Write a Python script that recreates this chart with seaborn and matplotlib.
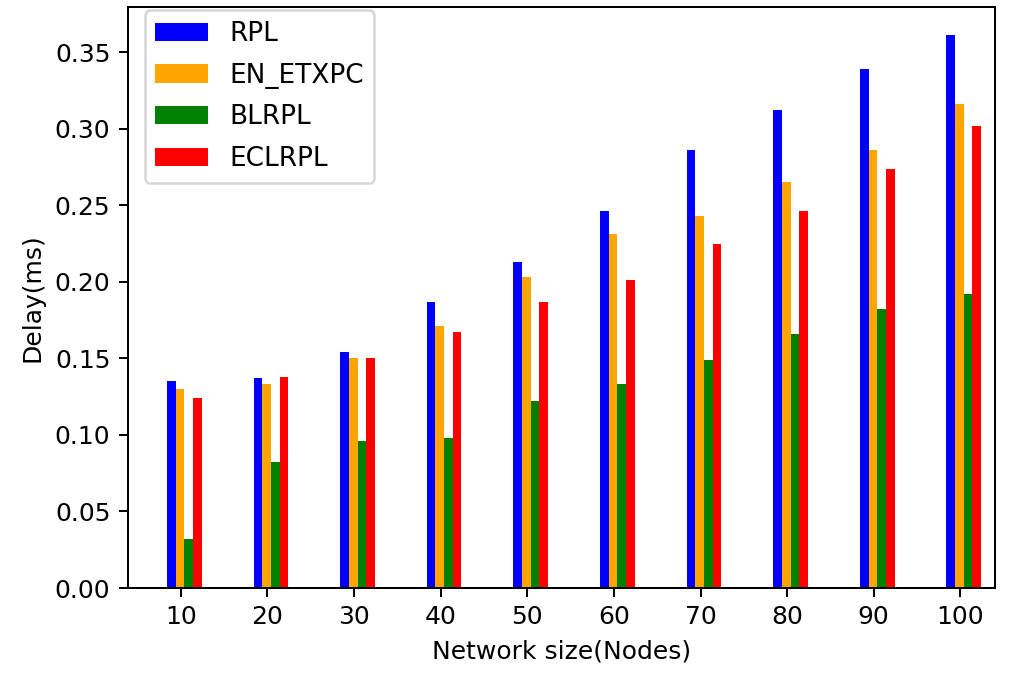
import numpy as np
import pandas as pd
import matplotlib
matplotlib.use("Agg")
import matplotlib.pyplot as plt
import seaborn as sns

# Average end-to-end delay per network size
nodes = [10, 20, 30, 40, 50, 60, 70, 80, 90, 100]
protocols = ["RPL", "EN_ETXPC", "BLRPL", "ECLRPL"]
rpl = [0.135, 0.137, 0.154, 0.187, 0.213, 0.246, 0.286, 0.312, 0.339, 0.361]
en_etxpc = [0.130, 0.133, 0.150, 0.171, 0.203, 0.231, 0.243, 0.265, 0.286, 0.316]
blrpl = [0.032, 0.082, 0.096, 0.098, 0.122, 0.133, 0.149, 0.166, 0.182, 0.192]
eclrpl = [0.124, 0.138, 0.150, 0.167, 0.187, 0.201, 0.225, 0.246, 0.274, 0.302]
colors = ["blue", "orange", "green", "red"]

df = pd.DataFrame({
    "Nodes": nodes * 4,
    "Protocol": np.repeat(protocols, len(nodes)),
    "Delay": rpl + en_etxpc + blrpl + eclrpl,
})

fig = plt.figure(figsize=(1013 / 180, 675 / 180), dpi=180)
ax = fig.add_axes([128 / 1013, 1 - 588 / 675, (995 - 128) / 1013, (588 - 7) / 675])

sns.barplot(data=df, x="Nodes", y="Delay", hue="Protocol", hue_order=protocols,
            palette=colors, saturation=1, width=0.4, gap=0, errorbar=None,
            linewidth=0, ax=ax)

pos = np.arange(len(nodes)) - 0.04
ax.set_xticks(pos)
ax.set_xticklabels([str(n) for n in nodes])
ax.set_xlim(-0.65, 9.36)
ax.set_ylim(0, 0.3795)
ax.set_xlabel("Network size(Nodes)")
ax.set_ylabel("Delay(ms)")
ax.legend(loc="upper left", bbox_to_anchor=(0.0196, 0.994), borderaxespad=0,
          fontsize=10.5, labelspacing=0.6)

fig.savefig("out.png", dpi=180)
